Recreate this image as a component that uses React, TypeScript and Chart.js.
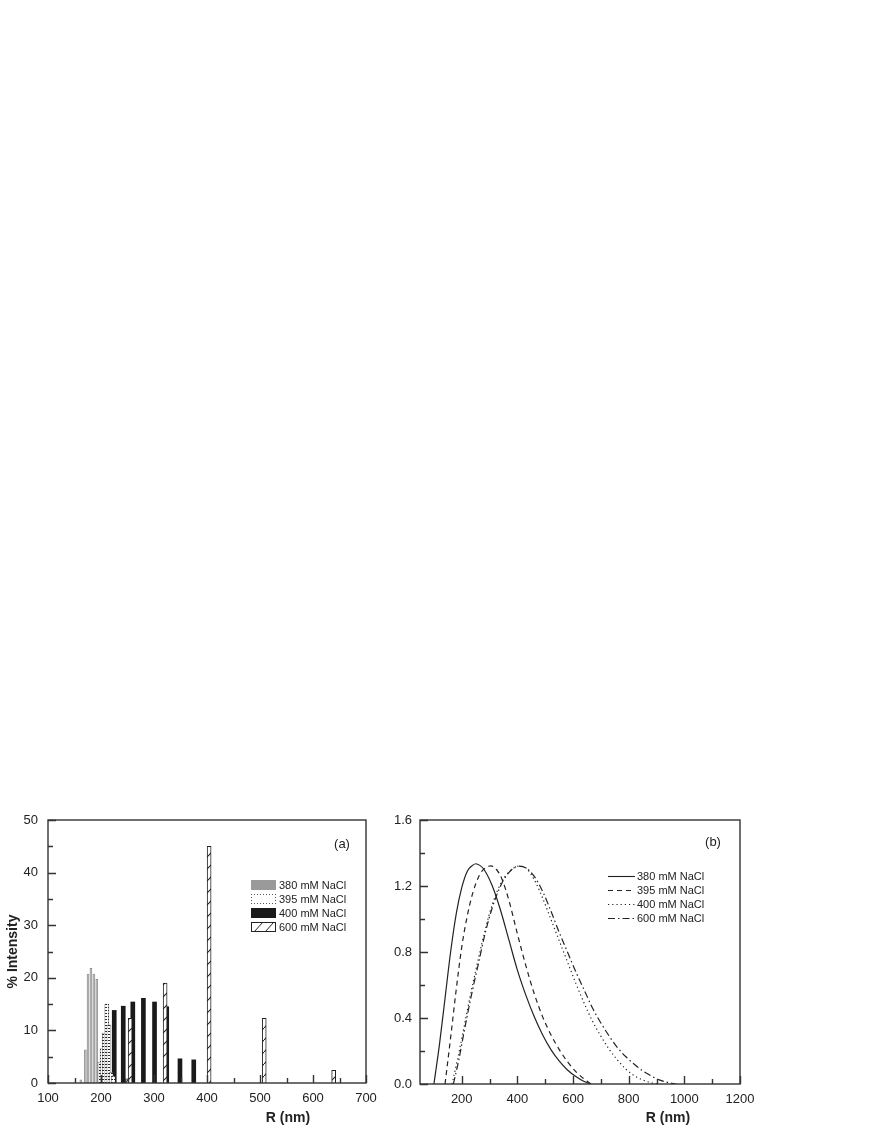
import React, { useEffect, useRef } from 'react';
import { Chart, registerables } from 'chart.js';

Chart.register(...registerables);

const FONT = 'Arial, "Liberation Sans", Helvetica, sans-serif';
const INK = '#222';

// ---------- Panel (a): % Intensity histogram ----------
const seriesLabels = ['380 mM NaCl', '395 mM NaCl', '400 mM NaCl', '600 mM NaCl'];
const r380 = [162, 170.5, 175.5, 181, 186.5, 192];
const i380 = [0.6, 6.3, 20.7, 21.8, 20.7, 19.7];
const r395 = [198, 202, 206, 211, 215, 219, 223];
const i395 = [4.0, 6.5, 9.5, 15.0, 11.0, 2.0, 1.3];
const r400 = [209, 225, 242, 260, 280, 301, 324, 349, 375];
const i400 = [1.0, 13.8, 14.6, 15.4, 16.1, 15.4, 14.5, 4.6, 4.4];
const r600 = [250, 255, 321, 404, 508, 639];
const i600 = [0.8, 12.3, 19.0, 45.0, 12.3, 2.4];
const xTicksA = [100, 200, 300, 400, 500, 600, 700];
const xMinorA = [150, 250, 350, 450, 550, 650];
const yTicksA = [0, 10, 20, 30, 40, 50];
const yMinorA = [5, 15, 25, 35, 45];

// ---------- Panel (b): size distributions ----------
const b380x = [100, 120, 140, 160, 180, 200, 220, 235, 250, 265, 280, 310, 340, 370, 400, 430, 460, 490, 520, 550, 580, 610, 640, 665];
const b380y = [0, 0.24, 0.52, 0.8, 1.03, 1.19, 1.29, 1.32, 1.335, 1.325, 1.3, 1.2, 1.05, 0.87, 0.69, 0.54, 0.41, 0.3, 0.21, 0.14, 0.085, 0.045, 0.015, 0];
const b395x = [140, 160, 180, 200, 220, 240, 265, 285, 305, 325, 345, 370, 400, 430, 460, 490, 520, 550, 580, 610, 640, 665];
const b395y = [0, 0.28, 0.57, 0.83, 1.02, 1.16, 1.27, 1.31, 1.322, 1.3, 1.24, 1.11, 0.91, 0.72, 0.55, 0.41, 0.3, 0.21, 0.135, 0.075, 0.03, 0];
const b400x = [165, 185, 210, 235, 260, 285, 310, 345, 380, 405, 430, 460, 490, 520, 550, 580, 610, 640, 670, 700, 730, 760, 790, 820, 850, 880, 905];
const b400y = [0, 0.15, 0.36, 0.57, 0.76, 0.94, 1.09, 1.23, 1.3, 1.32, 1.31, 1.24, 1.13, 1.0, 0.87, 0.74, 0.61, 0.49, 0.38, 0.29, 0.21, 0.145, 0.09, 0.05, 0.025, 0.008, 0];
const b600x = [170, 190, 210, 235, 260, 285, 310, 345, 380, 405, 430, 460, 490, 520, 550, 580, 610, 640, 670, 700, 730, 760, 790, 820, 850, 880, 910, 940, 970];
const b600y = [0, 0.15, 0.33, 0.54, 0.73, 0.92, 1.07, 1.22, 1.3, 1.32, 1.31, 1.26, 1.17, 1.05, 0.92, 0.8, 0.68, 0.57, 0.46, 0.37, 0.29, 0.22, 0.165, 0.12, 0.08, 0.05, 0.025, 0.01, 0];
const xTicksB = [200, 400, 600, 800, 1000, 1200];
const xMinorB = [300, 500, 700, 900, 1100];
const yTicksB = [0, 0.4, 0.8, 1.2, 1.6];
const yMinorB = [0.2, 0.6, 1.0, 1.4];
const lineDashes: number[][] = [[], [5, 4], [1.2, 3], [7, 3, 1.5, 3]];

const pts = (xs: number[], ys: number[]) => xs.map((x, i) => ({ x, y: ys[i] }));

function makeHatch(): CanvasPattern {
  const c = document.createElement('canvas');
  c.width = 12; c.height = 12;
  const g = c.getContext('2d')!;
  g.fillStyle = '#fff'; g.fillRect(0, 0, 12, 12);
  g.strokeStyle = '#222'; g.lineWidth = 1.1;
  g.beginPath(); g.moveTo(0, 12); g.lineTo(12, 0); g.stroke();
  return g.createPattern(c, 'repeat')!;
}

function makeDots(): CanvasPattern {
  const c = document.createElement('canvas');
  c.width = 3; c.height = 3;
  const g = c.getContext('2d')!;
  g.fillStyle = '#fff'; g.fillRect(0, 0, 3, 3);
  g.fillStyle = '#2a2a2a'; g.fillRect(0, 0, 2, 1);
  return g.createPattern(c, 'repeat')!;
}

type FrameCfg = {
  id: string;
  xMajor: number[]; xMinor: number[]; yMajor: number[]; yMinor: number[];
  extra: (ctx: CanvasRenderingContext2D, chart: any) => void;
};

function makeFramePlugin(cfg: FrameCfg) {
  return {
    id: cfg.id,
    afterDraw(chart: any) {
      const { ctx, chartArea: a, scales } = chart;
      const x = scales.x, y = scales.y;
      ctx.save();
      ctx.strokeStyle = '#333';
      ctx.lineWidth = 1.4;
      ctx.strokeRect(a.left, a.top, a.right - a.left, a.bottom - a.top);
      ctx.beginPath();
      const xt = (vals: number[], len: number) => vals.forEach(v => {
        const p = Math.round(x.getPixelForValue(v)) + 0.5;
        ctx.moveTo(p, a.bottom); ctx.lineTo(p, a.bottom - len);
      });
      const yt = (vals: number[], len: number) => vals.forEach(v => {
        const p = Math.round(y.getPixelForValue(v)) + 0.5;
        ctx.moveTo(a.left, p); ctx.lineTo(a.left + len, p);
      });
      xt(cfg.xMajor, 8); xt(cfg.xMinor, 5);
      yt(cfg.yMajor, 8); yt(cfg.yMinor, 5);
      ctx.stroke();
      cfg.extra(ctx, chart);
      ctx.restore();
    },
  };
}

const tickFont = { size: 13, family: FONT };
const fitX = (h: number) => (s: any) => { s.height = h; s.paddingLeft = 0; s.paddingRight = 0; };
const fitY = (w: number) => (s: any) => { s.width = w; s.paddingTop = 0; s.paddingBottom = 0; };

export default function App() {
  const refA = useRef<HTMLCanvasElement>(null);
  const refB = useRef<HTMLCanvasElement>(null);

  useEffect(() => {
    const hatch = makeHatch();
    const dots = makeDots();

    const frameA = makeFramePlugin({
      id: 'frameA',
      xMajor: xTicksA, xMinor: xMinorA, yMajor: yTicksA, yMinor: yMinorA,
      extra: (ctx) => {
        ctx.fillStyle = INK;
        ctx.font = `13px ${FONT}`;
        ctx.textAlign = 'center'; ctx.textBaseline = 'middle';
        ctx.fillText('(a)', 342, 44);
        ctx.font = `bold 14px ${FONT}`;
        ctx.fillText('R (nm)', 288, 318);
        // legend
        const rows = [85, 99, 113, 127];
        const bx = 251, bw = 25, bh = 10;
        ctx.font = `11px ${FONT}`;
        ctx.textAlign = 'left';
        rows.forEach((ry, i) => {
          const top = ry - bh / 2;
          if (i === 0) { ctx.fillStyle = '#9a9a9a'; ctx.fillRect(bx, top, bw, bh); }
          if (i === 1) {
            ctx.fillStyle = '#555';
            for (let k = 0; k < bw; k += 3) { ctx.fillRect(bx + k, top, 1, 1); ctx.fillRect(bx + k, top + bh - 1, 1, 1); }
            for (let k = 0; k < bh; k += 3) { ctx.fillRect(bx, top + k, 1, 1); ctx.fillRect(bx + bw - 1, top + k, 1, 1); }
          }
          if (i === 2) { ctx.fillStyle = '#1a1a1a'; ctx.fillRect(bx, top, bw, bh); }
          if (i === 3) {
            ctx.fillStyle = '#fff'; ctx.fillRect(bx, top, bw, bh);
            ctx.strokeStyle = '#222'; ctx.lineWidth = 1;
            ctx.strokeRect(bx + 0.5, top + 0.5, bw - 1, bh - 1);
            ctx.beginPath();
            ctx.moveTo(bx + 3, top + bh); ctx.lineTo(bx + 12, top);
            ctx.moveTo(bx + 14, top + bh); ctx.lineTo(bx + 23, top);
            ctx.stroke();
          }
          ctx.fillStyle = INK;
          ctx.fillText(seriesLabels[i], 279, ry + 0.5);
        });
      },
    });

    const chartA = new Chart(refA.current!, {
      type: 'bar',
      data: {
        datasets: [
          { label: seriesLabels[3], data: pts(r600, i600) as any, backgroundColor: hatch, borderColor: '#222', borderWidth: 1, barThickness: 4, grouped: false, order: 0 } as any,
          { label: seriesLabels[1], data: pts(r395, i395) as any, backgroundColor: dots, borderColor: '#444', borderWidth: 0.6, barThickness: 4, grouped: false, order: 1 } as any,
          { label: seriesLabels[2], data: pts(r400, i400) as any, backgroundColor: '#1a1a1a', borderWidth: 0, barThickness: 4, grouped: false, order: 2 } as any,
          { label: seriesLabels[0], data: pts(r380, i380) as any, backgroundColor: '#bdbdbd', borderColor: '#888', borderWidth: 0.7, barThickness: 2, grouped: false, order: 3 } as any,
        ],
      },
      options: {
        responsive: false,
        animation: false,
        devicePixelRatio: 1,
        layout: { padding: { left: 0, top: 20, right: 14, bottom: 0 } },
        plugins: { legend: { display: false }, tooltip: { enabled: false } },
        scales: {
          x: {
            type: 'linear', min: 100, max: 700, offset: false,
            grid: { display: false, drawTicks: false }, border: { display: false },
            ticks: { font: tickFont, color: INK, padding: 8, maxRotation: 0, autoSkip: false, callback: (v: any) => String(v) },
            afterBuildTicks: (s: any) => { s.ticks = xTicksA.map(v => ({ value: v })); },
            afterFit: fitX(45),
          },
          y: {
            min: 0, max: 50,
            grid: { display: false, drawTicks: false }, border: { display: false },
            ticks: { font: tickFont, color: INK, padding: 10, callback: (v: any) => String(v) },
            afterBuildTicks: (s: any) => { s.ticks = yTicksA.map(v => ({ value: v })); },
            afterFit: fitY(48),
            title: { display: true, text: '% Intensity', color: INK, font: { size: 14, weight: 'bold', family: FONT }, padding: { top: 5, bottom: 0 } },
          },
        },
      } as any,
      plugins: [frameA],
    });

    const frameB = makeFramePlugin({
      id: 'frameB',
      xMajor: xTicksB, xMinor: xMinorB, yMajor: yTicksB, yMinor: yMinorB,
      extra: (ctx) => {
        ctx.fillStyle = INK;
        ctx.font = `13px ${FONT}`;
        ctx.textAlign = 'center'; ctx.textBaseline = 'middle';
        ctx.fillText('(b)', 333, 42);
        ctx.font = `bold 14px ${FONT}`;
        ctx.fillText('R (nm)', 288, 318);
        const rows = [76, 90, 104, 118];
        ctx.font = `11px ${FONT}`;
        ctx.textAlign = 'left';
        rows.forEach((ry, i) => {
          ctx.strokeStyle = '#222'; ctx.lineWidth = 1.1;
          ctx.setLineDash(lineDashes[i]);
          ctx.beginPath();
          ctx.moveTo(228, ry + 0.5); ctx.lineTo(255, ry + 0.5);
          ctx.stroke();
          ctx.setLineDash([]);
          ctx.fillStyle = INK;
          ctx.fillText(seriesLabels[i], 257, ry + 0.5);
        });
      },
    });

    const lineSet = (i: number, xs: number[], ys: number[]) => ({
      label: seriesLabels[i], data: pts(xs, ys), showLine: true, pointRadius: 0,
      borderColor: '#222', borderWidth: 1.2, borderDash: lineDashes[i],
      cubicInterpolationMode: 'monotone', fill: false,
    });

    const chartB = new Chart(refB.current!, {
      type: 'scatter',
      data: {
        datasets: [
          lineSet(0, b380x, b380y),
          lineSet(1, b395x, b395y),
          lineSet(2, b400x, b400y),
          lineSet(3, b600x, b600y),
        ] as any,
      },
      options: {
        responsive: false,
        animation: false,
        devicePixelRatio: 1,
        layout: { padding: { left: 0, top: 20, right: 132, bottom: 0 } },
        plugins: { legend: { display: false }, tooltip: { enabled: false } },
        scales: {
          x: {
            type: 'linear', min: 50, max: 1200,
            grid: { display: false, drawTicks: false }, border: { display: false },
            ticks: { font: tickFont, color: INK, padding: 8, maxRotation: 0, autoSkip: false, callback: (v: any) => String(v) },
            afterBuildTicks: (s: any) => { s.ticks = xTicksB.map(v => ({ value: v })); },
            afterFit: fitX(44),
          },
          y: {
            min: 0, max: 1.6,
            grid: { display: false, drawTicks: false }, border: { display: false },
            ticks: { font: tickFont, color: INK, padding: 8, callback: (v: any) => Number(v).toFixed(1) },
            afterBuildTicks: (s: any) => { s.ticks = yTicksB.map(v => ({ value: v })); },
            afterFit: fitY(40),
          },
        },
      } as any,
      plugins: [frameB],
    });

    return () => { chartA.destroy(); chartB.destroy(); };
  }, []);

  return (
    <div style={{ position: 'absolute', left: 0, top: 0, width: 872, height: 1128, background: '#fff', overflow: 'hidden' }}>
      <canvas ref={refA} width={380} height={328} style={{ position: 'absolute', left: 0, top: 800, width: 380, height: 328 }} />
      <canvas ref={refB} width={492} height={328} style={{ position: 'absolute', left: 380, top: 800, width: 492, height: 328 }} />
    </div>
  );
}
